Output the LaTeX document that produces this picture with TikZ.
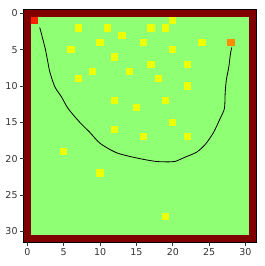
\documentclass[tikz,border=0pt]{standalone}
\usepackage{fontspec}
\setmainfont{DejaVu Sans}
\definecolor{wallc}{rgb}{0.5,0,0}
\definecolor{freec}{rgb}{0.56,1,0.45}
\definecolor{obstc}{rgb}{0.93,1,0.02}
\definecolor{startc}{rgb}{1,0.12,0}
\definecolor{goalc}{rgb}{1,0.55,0}
\definecolor{tickc}{rgb}{0.2,0.2,0.2}
\tikzset{
  cellbox/.style={fill=#1, draw=none},
  ticklab/.style={font=\fontsize{9.5}{10}\selectfont, text=tickc, inner sep=0pt},
  tickmark/.style={draw=tickc, line width=0.7pt},
  pathline/.style={draw=black, line width=0.8pt, line join=round}
}
\begin{document}
\begin{tikzpicture}[x=1pt,y={(0pt,-1pt)}]
\useasboundingbox (0,0) rectangle (265,266);
\begin{scope}[shift={(27.4,13.4)}, x=7.27pt, y={(0pt,-7.26pt)}]
  \fill[wallc] (-0.5,-0.5) rectangle (31.5,31.5);
  \fill[freec] (0.5,0.5) rectangle (30.5,30.5);
  \foreach \c/\r in {7/2,11/2,17/2,19/2,20/1,13/3,10/4,16/4,24/4,6/5,20/5,12/6,17/7,22/7,9/8,14/8,7/9,18/9,22/10,12/12,19/12,15/13,20/15,12/16,16/17,22/17,5/19,10/22,19/28}
    \fill[obstc] (\c-0.5,\r-0.5) rectangle (\c+0.5,\r+0.5);
  \fill[startc] (0.5,0.5) rectangle (1.5,1.5);
  \fill[goalc] (27.5,3.5) rectangle (28.5,4.5);
  \draw[pathline] plot[smooth, tension=0.5] coordinates {(1.7,1.94) (2.16,3.7) (2.5,5.07) (2.85,6.9) (3.08,8.06) (3.77,10.1) (4.69,11.5) (5.6,13.1) (7.2,15.0) (8.6,16.4) (10.0,17.9) (12.05,19.1) (13.65,19.6) (15.95,20.1) (17.8,20.4) (19.5,20.45) (20.3,20.4) (21.7,19.8) (23.3,19.1) (24.5,18.0) (25.6,16.4) (26.5,14.5) (27.1,13.1) (27.2,11.06) (27.36,9.2) (27.7,7.4) (27.9,5.76) (28.1,4.7)};
  \draw[black, line width=0.6pt] (-0.5,-0.5) rectangle (31.5,31.5);
  \foreach \v in {0,5,...,30} {
    \coordinate (yt\v) at (-0.5,\v);
    \draw[tickmark] (yt\v) -- ++(-3.5pt,0);
    \node[ticklab, anchor=east] (yl\v) at ([xshift=-6pt]yt\v) {\v};
    \coordinate (xt\v) at (\v,31.5);
    \draw[tickmark] (xt\v) -- ++(0,-3.5pt);
    \node[ticklab, anchor=north] (xl\v) at ([yshift=-6.5pt]xt\v) {\v};
  }
\end{scope}
\end{tikzpicture}
\end{document}
